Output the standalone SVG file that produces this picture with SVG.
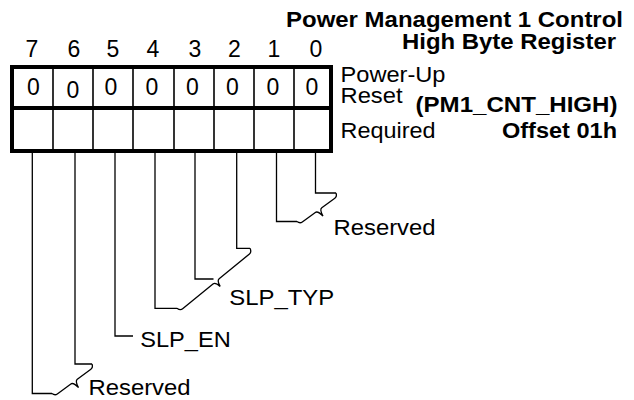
<svg xmlns="http://www.w3.org/2000/svg" width="634" height="400" viewBox="0 0 634 400">
<style>
text{font-family:"Liberation Sans",Arial,sans-serif;font-size:22.5px;fill:#000}
.b{font-weight:bold}
.num{text-anchor:middle;font-size:23px}
.frame{fill:none;stroke:#000;stroke-width:4}
.div{stroke:#000;stroke-width:1.6}
.lead{fill:none;stroke:#000;stroke-width:1.3;stroke-linejoin:miter}
</style>
<rect width="634" height="400" fill="#fff"/>
<g id="title">
<text class="b" x="286" y="26.5" textLength="337" lengthAdjust="spacingAndGlyphs">Power Management 1 Control</text>
<text class="b" x="402" y="48.5" textLength="214" lengthAdjust="spacingAndGlyphs">High Byte Register</text>
<text class="b" x="415.5" y="111.7" textLength="202" lengthAdjust="spacingAndGlyphs">(PM1_CNT_HIGH)</text>
<text class="b" x="502" y="138.3" textLength="115" lengthAdjust="spacingAndGlyphs">Offset 01h</text>
</g>
<g id="row-labels">
<text x="340.5" y="81.5" textLength="105" lengthAdjust="spacingAndGlyphs">Power-Up</text>
<text x="340.5" y="103.3" textLength="62" lengthAdjust="spacingAndGlyphs">Reset</text>
<text x="340.5" y="138.3" textLength="95" lengthAdjust="spacingAndGlyphs">Required</text>
</g>
<g id="bit-numbers">
<text class="num" x="32" y="57.3">7</text>
<text class="num" x="74" y="57.3">6</text>
<text class="num" x="113" y="57.3">5</text>
<text class="num" x="153" y="57.3">4</text>
<text class="num" x="195" y="57.3">3</text>
<text class="num" x="234.5" y="57.3">2</text>
<text class="num" x="274" y="57.3">1</text>
<text class="num" x="316" y="57.3">0</text>
</g>
<g id="register">
<rect class="frame" x="12" y="67" width="319" height="84"/>
<line class="frame" x1="12" y1="108" x2="331" y2="108"/>
<line class="div" x1="53" y1="67" x2="53" y2="151"/>
<line class="div" x1="93" y1="67" x2="93" y2="151"/>
<line class="div" x1="133" y1="67" x2="133" y2="151"/>
<line class="div" x1="174" y1="67" x2="174" y2="151"/>
<line class="div" x1="214" y1="67" x2="214" y2="151"/>
<line class="div" x1="254" y1="67" x2="254" y2="151"/>
<line class="div" x1="294" y1="67" x2="294" y2="151"/>
<text class="num" x="33.3" y="95">0</text>
<text class="num" x="73" y="98.3">0</text>
<text class="num" x="111" y="95">0</text>
<text class="num" x="152" y="95">0</text>
<text class="num" x="192.3" y="95">0</text>
<text class="num" x="232.5" y="95">0</text>
<text class="num" x="273" y="95">0</text>
<text class="num" x="312" y="95">0</text>
</g>
<g id="connectors">
<path class="lead" d="M315.5,153 V193 H336"/>
<path class="lead" d="M276.5,153 V221.5 H297"/>
<path class="lead" transform="translate(297,221.5) rotate(-36.16)" d="M0,0 q1,3.5 4,3.5 L20.15,3.5 q3,0 4,7.5 q1,-7.5 4,-7.5 L44.3,3.5 q3,0 4,-3.5"/>
<path class="lead" d="M236.7,153 V248.3 H250"/>
<path class="lead" d="M195,153 V279 H213.5"/>
<path class="lead" d="M155,153 V308.3 H177"/>
<path class="lead" transform="translate(177,308.3) rotate(-39.4)" d="M0,0 q1,4 4,4 L43.25,4 q3,0 4,6.5 q1,-6.5 4,-6.5 L90.5,4 q3,0 4,-4"/>
<path class="lead" d="M115,153 V336 H133"/>
<path class="lead" d="M75,153 V364 H92"/>
<path class="lead" d="M32.3,153 V393.5 H52"/>
<path class="lead" transform="translate(52,393.5) rotate(-36.4)" d="M0,0 q1,3.5 4,3.5 L20.85,3.5 q3,0 4,7.5 q1,-7.5 4,-7.5 L45.7,3.5 q3,0 4,-3.5"/>
</g>
<g id="label-reserved-1-0"><text x="333.5" y="235" textLength="102" lengthAdjust="spacingAndGlyphs">Reserved</text></g>
<g id="label-slp-typ"><text x="229.2" y="305" textLength="105" lengthAdjust="spacingAndGlyphs">SLP_TYP</text></g>
<g id="label-slp-en"><text x="140.2" y="347" textLength="90.5" lengthAdjust="spacingAndGlyphs">SLP_EN</text></g>
<g id="label-reserved-7-6"><text x="88.5" y="395" textLength="102" lengthAdjust="spacingAndGlyphs">Reserved</text></g>
</svg>
